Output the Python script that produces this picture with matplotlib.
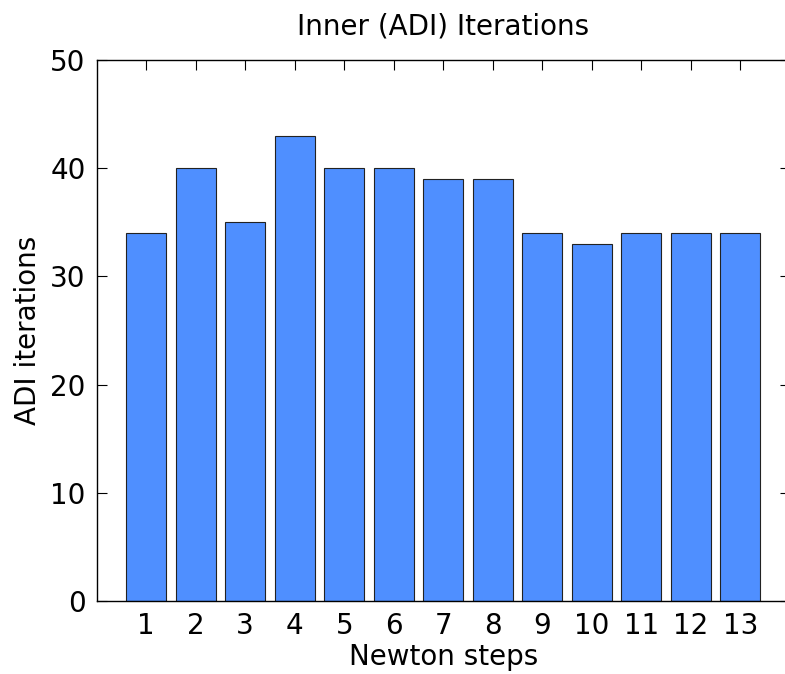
import matplotlib
matplotlib.use("Agg")
import matplotlib.pyplot as plt

# Newton step -> number of inner ADI iterations
steps = list(range(1, 14))
adi_iters = [34, 40, 35, 43, 40, 40, 39, 39, 34, 33, 34, 34, 34]
yticks = [0, 10, 20, 30, 40, 50]

plt.rcParams["font.family"] = ["DejaVu Sans"]

fig = plt.figure(figsize=(7.85, 6.74), dpi=100)
# axes runs a little past the right edge of the figure, as in the original
ax = fig.add_axes([96.7 / 785, 1 - 601 / 674, 693 / 785, 541 / 674])

ax.bar(steps, adi_iters, width=0.8, color="#4F8FFF", edgecolor="#222222",
       linewidth=0.8, zorder=2)

ax.set_xlim(0, 14)
ax.set_ylim(0, 50)
ax.set_xticks(steps)
ax.set_yticks(yticks)
ax.tick_params(direction="in", length=7, width=0.8, top=True, right=True,
               labelsize=20, pad=8)
for s in ax.spines.values():
    s.set_linewidth(1.0)

ax.set_title("Inner (ADI) Iterations", fontsize=20, pad=18)
ax.set_xlabel("Newton steps", fontsize=20, labelpad=2)
ax.set_ylabel("ADI iterations", fontsize=20, labelpad=6)

fig.savefig("out.png", dpi=100)
